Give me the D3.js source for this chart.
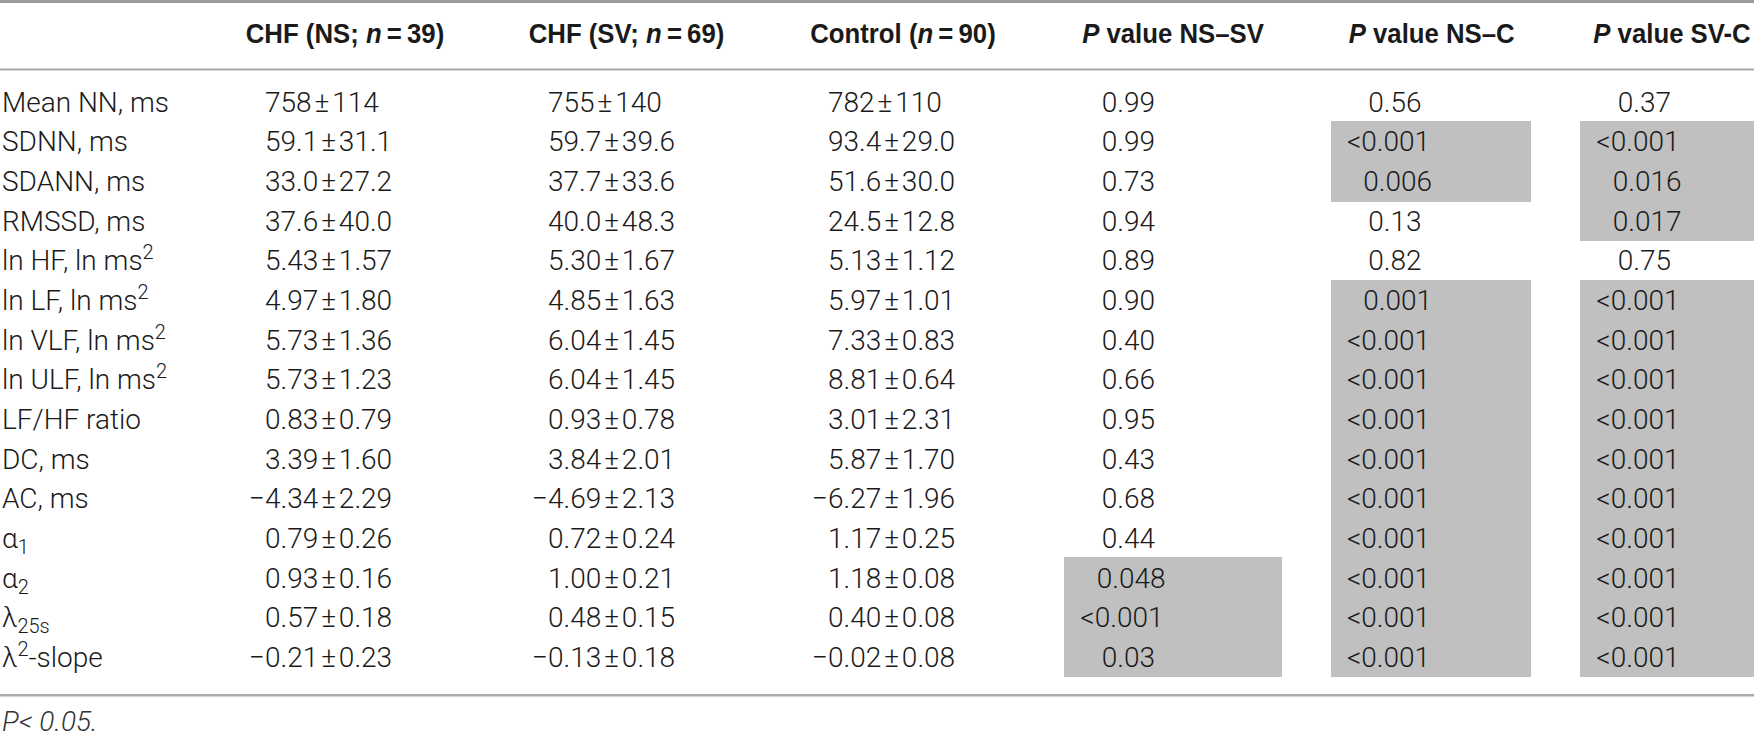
<!DOCTYPE html>
<html>
<head>
<meta charset="utf-8">
<script src="https://cdn.jsdelivr.net/npm/d3@7/dist/d3.min.js"></script>
<style>
  html, body { margin: 0; padding: 0; background: #fff; }
  svg { display: block; }
</style>
</head>
<body>
<svg id="chart" width="1754" height="737"></svg>
<script>
// ---------------- DATA ----------------
const rowLabels = [
  "Mean NN, ms", "SDNN, ms", "SDANN, ms", "RMSSD, ms",
  "ln HF, ln ms^2", "ln LF, ln ms^2", "ln VLF, ln ms^2", "ln ULF, ln ms^2",
  "LF/HF ratio", "DC, ms", "AC, ms", "α_1", "α_2", "λ_25s", "λ^2-slope"
];
const decimals = [0, 1, 1, 1, 2, 2, 2, 2, 2, 2, 2, 2, 2, 2, 2];

const meanNS = [758, 59.1, 33.0, 37.6, 5.43, 4.97, 5.73, 5.73, 0.83, 3.39, -4.34, 0.79, 0.93, 0.57, -0.21];
const sdNS   = [114, 31.1, 27.2, 40.0, 1.57, 1.80, 1.36, 1.23, 0.79, 1.60, 2.29, 0.26, 0.16, 0.18, 0.23];
const meanSV = [755, 59.7, 37.7, 40.0, 5.30, 4.85, 6.04, 6.04, 0.93, 3.84, -4.69, 0.72, 1.00, 0.48, -0.13];
const sdSV   = [140, 39.6, 33.6, 48.3, 1.67, 1.63, 1.45, 1.45, 0.78, 2.01, 2.13, 0.24, 0.21, 0.15, 0.18];
const meanC  = [782, 93.4, 51.6, 24.5, 5.13, 5.97, 7.33, 8.81, 3.01, 5.87, -6.27, 1.17, 1.18, 0.40, -0.02];
const sdC    = [110, 29.0, 30.0, 12.8, 1.12, 1.01, 0.83, 0.64, 2.31, 1.70, 1.96, 0.25, 0.08, 0.08, 0.08];

const pNS_SV = ["0.99", "0.99", "0.73", "0.94", "0.89", "0.90", "0.40", "0.66", "0.95", "0.43", "0.68", "0.44", "0.048", "<0.001", "0.03"];
const pNS_C  = ["0.56", "<0.001", "0.006", "0.13", "0.82", "0.001", "<0.001", "<0.001", "<0.001", "<0.001", "<0.001", "<0.001", "<0.001", "<0.001", "<0.001"];
const pSV_C  = ["0.37", "<0.001", "0.016", "0.017", "0.75", "<0.001", "<0.001", "<0.001", "<0.001", "<0.001", "<0.001", "<0.001", "<0.001", "<0.001", "<0.001"];

// header segments: [text, italic?]
const headers = [
  [["CHF (NS; ", false], ["n", true], ["\u2009=\u200939)", false]],
  [["CHF (SV; ", false], ["n", true], ["\u2009=\u200969)", false]],
  [["Control (", false], ["n", true], ["\u2009=\u200990)", false]],
  [["P", true], [" value NS\u2013SV", false]],
  [["P", true], [" value NS\u2013C", false]],
  [["P", true], [" value SV-C", false]]
];
const footnote = "P< 0.05.";
const alpha = 0.05;

// ---------------- LAYOUT ----------------
const W = 1754, H = 737;
const bodyFont = "Roboto, 'Liberation Sans', Arial, sans-serif";
const headFont = "'Liberation Sans', Arial, sans-serif";
const fs = 28;
const textColor = "#1a1a1a";
const shadeColor = "#c0c0c0";
const ruleColor = "#aaaaaa";

const svg = d3.select("#chart");

const y = d3.scaleBand().domain(d3.range(rowLabels.length)).range([82, 676.6]).paddingInner(0).paddingOuter(0);
const baseline = i => y(i) + y.bandwidth() / 2 + 10;

const meanCols = ["ns", "sv", "c"];
const pCols = ["nssv", "nsc", "svc"];
const xMean = d3.scaleOrdinal().domain(meanCols).range([265, 548, 828]);
const xP = d3.scaleOrdinal().domain(pCols).range([1096.7, 1363.3, 1612.7]);
const shadeX0 = d3.scaleOrdinal().domain(pCols).range([1064, 1331, 1580]);
const shadeX1 = d3.scaleOrdinal().domain(pCols).range([1282, 1531, 1754]);
const headerX = d3.scaleOrdinal().domain(d3.range(6)).range([345, 626.5, 903, 1173, 1431.7, 1672]);

// measuring helper
const meas = svg.append("text").attr("font-family", bodyFont).attr("font-size", fs).attr("font-weight", 300).attr("visibility", "hidden");
function textW(s) { meas.text(s); return meas.node().getComputedTextLength(); }

// ---------------- RULES ----------------
svg.append("rect").attr("x", 0).attr("y", 0).attr("width", W).attr("height", 3).attr("fill", "#9a9a9a");
svg.append("rect").attr("x", 0).attr("y", 68.5).attr("width", W).attr("height", 2).attr("fill", ruleColor);
svg.append("rect").attr("x", 0).attr("y", 694).attr("width", W).attr("height", 2.5).attr("fill", ruleColor);

// ---------------- SHADING ----------------
const pData = { nssv: pNS_SV, nsc: pNS_C, svc: pSV_C };
const pNum = s => +s.replace("<", "");
pCols.forEach(k => {
  svg.append("g").selectAll("rect")
    .data(pData[k].map((v, i) => ({ v, i })).filter(d => pNum(d.v) < alpha))
    .join("rect")
    .attr("x", shadeX0(k))
    .attr("width", shadeX1(k) - shadeX0(k))
    .attr("y", d => Math.floor(y(d.i)))
    .attr("height", Math.ceil(y.bandwidth()) + 1)
    .attr("fill", shadeColor)
    .attr("shape-rendering", "crispEdges");
});

// ---------------- HEADERS ----------------
headers.forEach((segs, j) => {
  const t = svg.append("text")
    .attr("transform", `translate(${headerX(j)},43) scale(0.92,1)`)
    .attr("text-anchor", "middle")
    .attr("font-family", headFont)
    .attr("font-size", fs)
    .attr("font-weight", "bold")
    .attr("fill", textColor);
  segs.forEach(([s, it]) => t.append("tspan").attr("font-style", it ? "italic" : "normal").text(s));
});

// ---------------- ROW LABELS ----------------
function drawLabel(g, label, x, yb) {
  const t = g.append("text").attr("x", x).attr("y", yb)
    .attr("font-family", bodyFont).attr("font-size", fs).attr("font-weight", 300).attr("fill", textColor);
  const re = /(\^|_)([0-9a-z]+)/g;
  let last = 0, m, shift = 0;
  while ((m = re.exec(label)) !== null) {
    if (m.index > last) { t.append("tspan").attr("dy", -shift).text(label.slice(last, m.index)); shift = 0; }
    const d = m[1] === "^" ? -11 : 6;
    t.append("tspan").attr("dy", d - shift).attr("font-size", 20).text(m[2]);
    shift = d;
    last = re.lastIndex;
  }
  if (last < label.length) { t.append("tspan").attr("dy", -shift).text(label.slice(last)); }
}
const gLab = svg.append("g");
rowLabels.forEach((lab, i) => drawLabel(gLab, lab, 2, baseline(i)));

// ---------------- MEAN ± SD CELLS ----------------
const meanData = { ns: [meanNS, sdNS], sv: [meanSV, sdSV], c: [meanC, sdC] };
meanCols.forEach(k => {
  const [m, s] = meanData[k];
  const cells = m.map((v, i) => {
    const f = d3.format("." + decimals[i] + "f");
    return { i, txt: f(v) + "\u200a\u00b1\u200a" + f(s[i]), neg: v < 0 };
  });
  svg.append("g").selectAll("text").data(cells).join("text")
    .attr("x", d => xMean(k) - (d.neg ? textW("\u2212") : 0))
    .attr("y", d => baseline(d.i))
    .attr("font-family", bodyFont).attr("font-size", fs).attr("font-weight", 300)
    .attr("fill", textColor)
    .text(d => d.txt);
});

// ---------------- P VALUE CELLS ----------------
pCols.forEach(k => {
  svg.append("g").selectAll("text").data(pData[k].map((v, i) => ({ v, i }))).join("text")
    .attr("x", d => {
      let x = xP(k);
      if (d.v.startsWith("<")) x -= textW("<") + 2;
      else if (d.v.split(".")[1].length === 2) x += 5;
      return x;
    })
    .attr("y", d => baseline(d.i))
    .attr("font-family", bodyFont).attr("font-size", fs).attr("font-weight", 300)
    .attr("fill", textColor)
    .text(d => d.v);
});

// ---------------- FOOTNOTE ----------------
svg.append("text").attr("x", 2).attr("y", 731)
  .attr("font-family", bodyFont).attr("font-size", fs).attr("font-weight", 300)
  .attr("font-style", "italic").attr("fill", "#333")
  .text(footnote);

meas.remove();
</script>
</body>
</html>
